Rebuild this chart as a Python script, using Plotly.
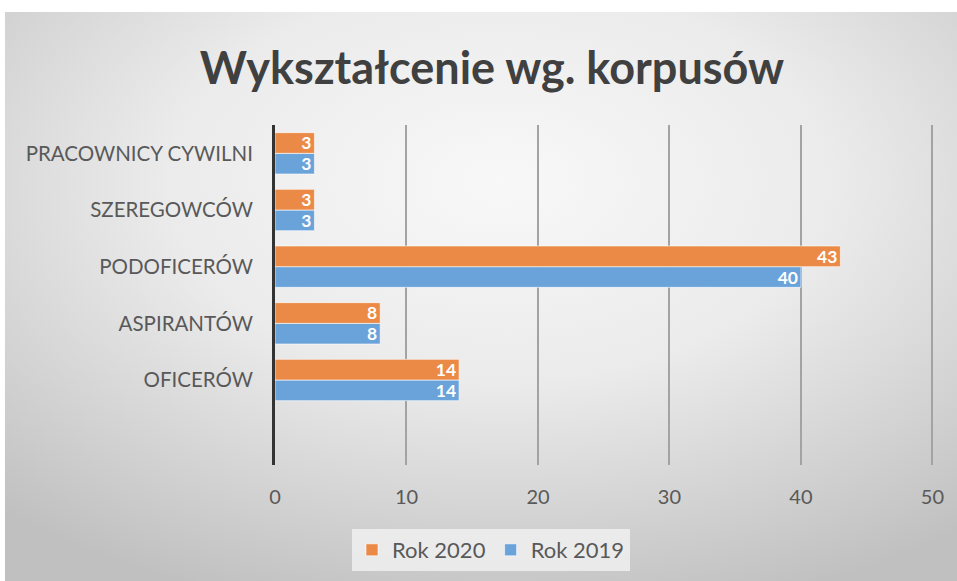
import base64
import plotly.graph_objects as go

categories = ["OFICERÓW", "ASPIRANTÓW", "PODOFICERÓW", "SZEREGOWCÓW", "PRACOWNICY CYWILNI"]
rok_2019 = [14, 8, 40, 3, 3]
rok_2020 = [14, 8, 43, 3, 3]
x_ticks = [0, 10, 20, 30, 40, 50]

W, H = 957, 581

svg = f'''<svg xmlns="http://www.w3.org/2000/svg" width="{W}" height="{H}" viewBox="0 0 {W} {H}" preserveAspectRatio="none">
<defs><radialGradient id="g" cx="0.52" cy="0.3" r="0.78" gradientUnits="objectBoundingBox">
<stop offset="0" stop-color="#f8f8f8"/><stop offset="0.45" stop-color="#ebebeb"/><stop offset="1" stop-color="#c0c0c0"/>
</radialGradient></defs>
<rect x="0" y="0" width="{W}" height="{H}" fill="url(#g)"/></svg>'''
uri = "data:image/svg+xml;base64," + base64.b64encode(svg.encode()).decode()

label_font = dict(family="Lato", size=17.5, color="white", weight="bold")

fig = go.Figure()
fig.add_trace(go.Bar(
    y=categories, x=rok_2019, name="Rok 2019", orientation="h",
    marker=dict(color="#6aa3da", line=dict(color="rgba(255,255,255,0.6)", width=1)),
    text=[str(v) for v in rok_2019], textposition="inside", insidetextanchor="end",
    textangle=0, constraintext="none", textfont=label_font, cliponaxis=False,
))
fig.add_trace(go.Bar(
    y=categories, x=rok_2020, name="Rok 2020", orientation="h",
    marker=dict(color="#eb8a47", line=dict(color="rgba(255,255,255,0.6)", width=1)),
    text=[str(v) for v in rok_2020], textposition="inside", insidetextanchor="end",
    textangle=0, constraintext="none", textfont=label_font, cliponaxis=False,
))

XMAX = 50.5
px_per_unit = (932 - 275) / 50
L, T, B = 275, 125, 581 - 465
R = W - (275 + XMAX * px_per_unit)

fig.update_layout(
    width=W, height=H,
    margin=dict(l=L, r=R, t=T, b=B, autoexpand=False),
    paper_bgcolor="white",
    plot_bgcolor="rgba(0,0,0,0)",
    barmode="group",
    bargap=0.27,
    bargroupgap=0,
    images=[dict(source=uri, xref="paper", yref="paper",
                 x=(5 - L) / (W - L - R), y=1 + (T - 12) / (H - T - B),
                 sizex=(W - 5) / (W - L - R), sizey=(H - 12) / (H - T - B),
                 xanchor="left", yanchor="top", sizing="stretch", layer="below")],
    title=dict(text="<b>Wykształcenie wg. korpusów</b>", x=492 / W, xanchor="center",
               xref="container", yref="container",
               y=1 - 68 / H, yanchor="middle",
               font=dict(family="Lato", size=45, color="#404040")),
    xaxis=dict(range=[0, XMAX], tickvals=x_ticks, automargin=False,
               showgrid=True, gridcolor="#a3a3a3", gridwidth=1.5,
               zeroline=False, showline=False,
               ticks="outside", ticklen=14, tickcolor="rgba(0,0,0,0)",
               tickfont=dict(family="Lato", size=20, color="#595959")),
    yaxis=dict(type="category", range=[-1.5, 4.5], automargin=False,
               showgrid=False, zeroline=False,
               showline=True, linecolor="#333333", linewidth=3,
               ticks="outside", ticklen=15, tickcolor="rgba(0,0,0,0)",
               tickfont=dict(family="Lato", size=20.5, color="#595959")),
    legend=dict(orientation="h", x=491 / W, xanchor="center", xref="container",
                y=1 - 550 / H, yanchor="middle", yref="container",
                traceorder="reversed", bgcolor="rgba(240,240,240,0.85)",
                font=dict(family="Lato", size=22, color="#595959"),
                itemwidth=30),
    showlegend=True,
)

fig.write_html("out.html", config={"displayModeBar": False},
               post_script="document.body.style.margin='0';")
